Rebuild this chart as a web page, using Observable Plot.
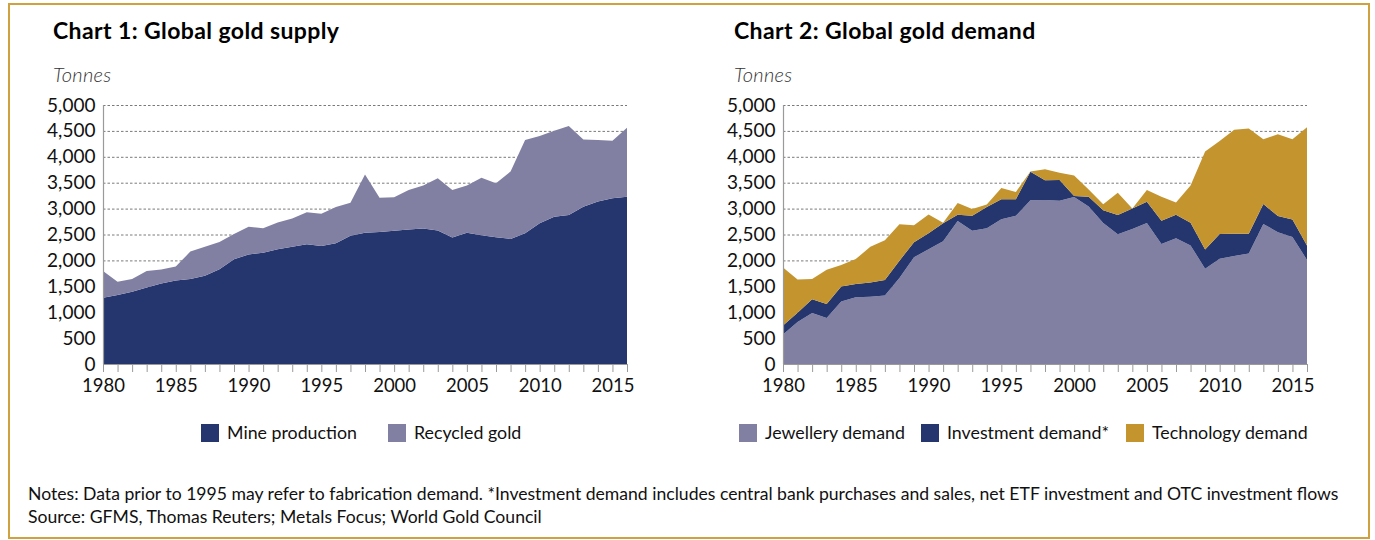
<!DOCTYPE html>
<html>
<head>
<meta charset="utf-8">
<script src="https://cdn.jsdelivr.net/npm/d3@7"></script>
<script src="https://cdn.jsdelivr.net/npm/@observablehq/plot@0.6"></script>
<style>
  html, body { margin: 0; padding: 0; background: #fff; }
  #page { position: relative; width: 1375px; height: 540px; overflow: hidden; font-family: Lato, "Open Sans", sans-serif; color: #111; }
  #frame { position: absolute; left: 8px; top: 3px; width: 1362px; height: 536px; box-sizing: border-box; border: 2.5px solid #CFA13F; z-index: 10; pointer-events: none; }
  .title { position: absolute; font-weight: 700; font-size: 23px; letter-spacing: 0.4px; line-height: 1; white-space: nowrap; color: #000; }
  .unit { position: absolute; font-style: italic; font-weight: 300; font-size: 20px; letter-spacing: 0.3px; line-height: 1; color: #333; white-space: nowrap; }
  .chart { position: absolute; top: 90px; }
  .legend { position: absolute; top: 424px; left: 0; font-size: 17.8px; line-height: 1; white-space: nowrap; }
  .legend .sw { display: inline-block; width: 18px; height: 18px; margin-right: 8px; }
  .legend .item { display: flex; align-items: center; position: absolute; top: 0; }
  .notes { position: absolute; left: 28px; font-size: 17.6px; line-height: 1; white-space: nowrap; color: #111; }
</style>
</head>
<body>
<div id="page">
  <div id="frame"></div>
  <div class="title" style="left:53px; top:19px;">Chart 1: Global gold supply</div>
  <div class="title" style="left:734px; top:19px;">Chart 2: Global gold demand</div>
  <div class="unit" style="left:53px; top:64px;">Tonnes</div>
  <div class="unit" style="left:734px; top:64px;">Tonnes</div>
  <div class="chart" id="c1" style="left:0px;"></div>
  <div class="chart" id="c2" style="left:680px;"></div>
  <div class="legend" id="l1"></div>
  <div class="legend" id="l2"></div>
  <div class="notes" style="top:485px;">Notes: Data prior to 1995 may refer to fabrication demand. *Investment demand includes central bank purchases and sales, net ETF investment and OTC investment flows</div>
  <div class="notes" style="top:508px;">Source: GFMS, Thomas Reuters; Metals Focus; World Gold Council</div>
</div>
<script>
const years = [1980,1981,1982,1983,1984,1985,1986,1987,1988,1989,1990,1991,1992,1993,1994,1995,1996,1997,1998,1999,2000,2001,2002,2003,2004,2005,2006,2007,2008,2009,2010,2011,2012,2013,2014,2015,2016];

// Chart 1: supply (tonnes)
const mineProduction = [1280,1330,1395,1475,1555,1610,1640,1705,1830,2020,2115,2150,2215,2265,2310,2280,2330,2475,2535,2550,2570,2595,2615,2575,2440,2535,2485,2445,2415,2525,2715,2845,2875,3035,3135,3200,3230];
const recycledGold   = [515,260,245,320,270,270,530,560,525,490,535,470,515,545,620,620,700,640,1125,660,650,765,830,1010,920,910,1110,1045,1300,1800,1685,1660,1720,1300,1190,1110,1330];

// Chart 2: demand (tonnes)
const jewelleryDemand  = [570,810,985,890,1205,1290,1300,1320,1660,2060,2215,2370,2760,2570,2620,2795,2860,3160,3165,3150,3225,3040,2720,2505,2605,2720,2315,2430,2290,1840,2030,2085,2135,2705,2545,2450,2010];
const investmentDemand = [175,180,265,270,290,255,275,300,335,290,310,345,120,290,410,385,320,550,380,400,20,190,250,370,395,410,450,450,435,370,480,430,380,385,310,340,280];
const technologyDemand = [1120,640,390,660,415,480,690,770,705,330,360,10,230,130,50,220,140,5,215,140,395,140,115,430,0,230,465,240,720,1890,1795,2005,2030,1250,1580,1550,2280];

const supplySeries = ["Mine production", "Recycled gold"];
const demandSeries = ["Jewellery demand", "Investment demand*", "Technology demand"];
const supplyColors = ["#25366E", "#8180A3"];
const demandColors = ["#8180A3", "#25366E", "#C4952F"];

const yTicks = [0,500,1000,1500,2000,2500,3000,3500,4000,4500,5000];
const xTickLabels = [1980,1985,1990,1995,2000,2005,2010,2015];

function makeChart(names, valueArrays, colors) {
  const data = names.flatMap((name, k) => years.map((year, i) => ({year, series: name, value: valueArrays[k][i]})));
  return Plot.plot({
    width: 680,
    height: 310,
    marginLeft: 103,
    marginRight: 53,
    marginTop: 15,
    marginBottom: 36,
    x: {domain: [1980, 2016], label: null},
    y: {domain: [0, 5000], label: null},
    color: {domain: names, range: colors},
    style: {fontFamily: "Lato, 'Open Sans', sans-serif", fontSize: "18px", color: "#111", background: "transparent", overflow: "visible"},
    marks: [
      Plot.gridY(yTicks, {stroke: "#7a7a7a", strokeOpacity: 1, strokeWidth: 1, strokeDasharray: "2.5,2"}),
      Plot.areaY(data, {x: "year", y: "value", fill: "series", curve: "linear"}),
      Plot.ruleX([1980], {stroke: "#9a9a9a", strokeWidth: 1.2}),
      Plot.ruleY([0], {stroke: "#9a9a9a", strokeWidth: 1.2}),
      Plot.axisY(yTicks, {tickSize: 0, tickPadding: 8, tickFormat: d3.format(","), fontSize: 19, fill: "#111"}),
      Plot.axisX(years, {tickSize: 8, tickPadding: 6, stroke: "#9a9a9a", fill: "#111", fontSize: 18.5,
        tickFormat: d => xTickLabels.includes(d) ? String(d) : ""})
    ]
  });
}

document.getElementById("c1").appendChild(makeChart(supplySeries, [mineProduction, recycledGold], supplyColors));
document.getElementById("c2").appendChild(makeChart(demandSeries, [jewelleryDemand, investmentDemand, technologyDemand], demandColors));

function makeLegend(el, names, colors, positions) {
  names.forEach((n, i) => {
    const item = document.createElement("div");
    item.className = "item";
    item.style.left = positions[i] + "px";
    item.innerHTML = `<span class="sw" style="background:${colors[i]}"></span><span>${n}</span>`;
    el.appendChild(item);
  });
}
makeLegend(document.getElementById("l1"), supplySeries, supplyColors, [201, 388]);
makeLegend(document.getElementById("l2"), demandSeries, demandColors, [739, 921, 1126]);
</script>
</body>
</html>
